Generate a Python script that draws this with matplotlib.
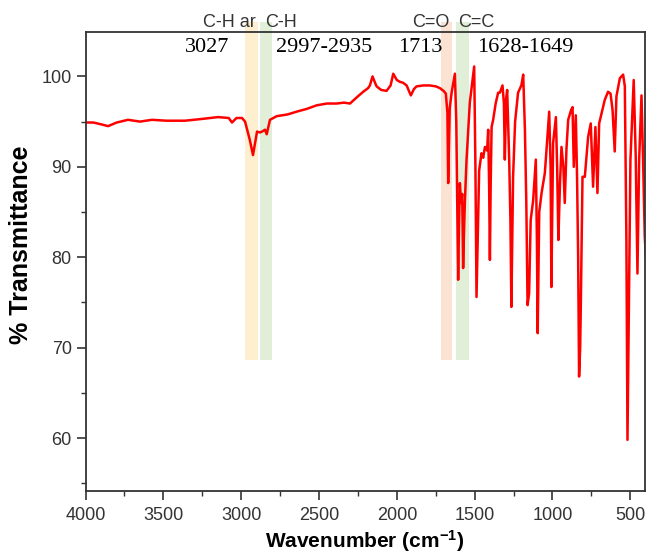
import matplotlib
matplotlib.use("Agg")
import matplotlib.pyplot as plt
from matplotlib.patches import Rectangle
from matplotlib.ticker import MultipleLocator

plt.rcParams["font.family"] = ["Liberation Sans", "DejaVu Sans"]
plt.rcParams["mathtext.fontset"] = "custom"
plt.rcParams["mathtext.rm"] = "Liberation Sans"
plt.rcParams["mathtext.bf"] = "Liberation Sans:bold"

# spectrum (wavenumber in cm-1, % transmittance)
WAVENUMBER = [
    4000, 3950, 3900, 3855, 3800, 3727, 3650, 3573, 3480, 3361, 3250, 3149,
    3080, 3059, 3030, 2995, 2975, 2963, 2945, 2935, 2924, 2912, 2898, 2880,
    2866, 2847, 2836, 2815, 2772, 2700, 2644, 2580, 2515, 2450, 2387, 2340,
    2301, 2250, 2216, 2185, 2173, 2156, 2140, 2130, 2100, 2066, 2040, 2023,
    2000, 1980, 1960, 1937, 1910, 1890, 1873, 1830, 1788, 1750, 1723, 1700,
    1685, 1675, 1670, 1660, 1648, 1635, 1627, 1618, 1606, 1600, 1595, 1587,
    1580, 1574, 1568, 1563, 1552, 1531, 1503, 1495, 1488, 1480, 1471, 1456,
    1445, 1434, 1420, 1413, 1407, 1402, 1397, 1391, 1381, 1365, 1349, 1338,
    1321, 1312, 1306, 1298, 1291, 1278, 1270, 1264, 1253, 1240, 1221, 1200,
    1188, 1177, 1168, 1160, 1150, 1140, 1124, 1107, 1100, 1095, 1085, 1070,
    1049, 1030, 1021, 1012, 1007, 996, 978, 970, 962, 952, 942, 930,
    921, 910, 899, 880, 871, 863, 850, 842, 835, 829, 822, 818,
    807, 792, 780, 771, 754, 739, 724, 711, 700, 685, 664, 643,
    627, 614, 600, 589, 567, 546, 535, 525, 518, 510, 499, 478,
    465, 454, 443, 428, 418, 407, 400,
]
TRANSMITTANCE = [
    94.9, 94.9, 94.7, 94.5, 94.9, 95.2, 95.0, 95.2, 95.1, 95.1, 95.3, 95.5,
    95.4, 94.9, 95.4, 95.4, 95.0, 94.2, 93.0, 92.2, 91.3, 92.5, 93.9, 93.8,
    93.9, 94.1, 93.6, 95.2, 95.6, 95.8, 96.1, 96.4, 96.8, 97.0, 97.0, 97.1,
    97.0, 97.8, 98.3, 98.7, 99.0, 100.0, 99.3, 98.9, 98.5, 98.4, 99.0, 100.3,
    99.6, 99.4, 99.3, 99.0, 97.9, 98.6, 98.9, 99.0, 99.0, 98.9, 98.7, 98.4,
    98.1, 96.0, 88.2, 96.5, 98.2, 99.5, 100.3, 95.0, 77.5, 84.0, 88.2, 86.0,
    87.0, 78.8, 83.0, 86.0, 90.8, 97.1, 101.1, 90.0, 75.6, 82.0, 89.6, 91.5,
    91.0, 92.2, 91.8, 94.1, 88.0, 79.7, 88.0, 94.4, 95.2, 97.0, 98.2, 98.2,
    99.0, 97.0, 90.8, 97.5, 98.5, 90.8, 84.0, 74.5, 88.9, 95.0, 98.2, 99.0,
    100.2, 94.1, 86.0, 74.7, 76.0, 84.1, 86.3, 90.8, 82.0, 71.6, 85.0, 87.1,
    89.3, 94.0, 96.1, 90.0, 76.7, 92.6, 95.5, 90.0, 81.9, 88.0, 92.2, 90.0,
    86.0, 92.0, 95.2, 96.3, 96.6, 90.0, 95.7, 88.9, 80.0, 66.8, 70.0, 74.5,
    88.9, 88.9, 91.5, 93.3, 94.8, 87.8, 94.4, 87.1, 94.8, 95.9, 97.4, 98.3,
    98.1, 96.3, 91.7, 97.8, 99.8, 100.2, 98.9, 81.9, 59.8, 72.7, 90.8, 99.6,
    91.1, 78.2, 90.8, 97.9, 90.8, 82.3, 80.0,
]

# highlighted bands: (high wavenumber, low wavenumber), colour
BAND_EDGES = [(2973, 2889), (2876, 2805), (1719, 1644), (1621, 1535)]
BAND_COLORS = ["#fdefcf", "#e1eed8", "#fbe3d4", "#e1eed8"]

GROUP_LABELS = ["C-H ar", "C-H", "C=O", "C=C"]
GROUP_X = [3078, 2745, 1781, 1492]
PEAK_LABELS = ["3027", "2997-2935", "1713", "1628-1649"]
PEAK_X = [3220, 2468, 1852, 1172]


def main():
    fig = plt.figure(figsize=(6.48, 5.54), dpi=100)
    ax = fig.add_axes([0.132, 0.1137, 0.863, 0.8285])

    band_bottom, band_top = 68.6, 106.0
    for (hi, lo), color in zip(BAND_EDGES, BAND_COLORS):
        rect = Rectangle((lo, band_bottom), hi - lo, band_top - band_bottom,
                         facecolor=color, edgecolor="none", clip_on=False,
                         zorder=1)
        ax.add_patch(rect)

    ax.plot(WAVENUMBER, TRANSMITTANCE, color="#ff0000", lw=1.8, zorder=3)

    ax.set_xlim(4000, 407)
    ax.set_ylim(54.14, 104.91)
    ax.xaxis.set_major_locator(MultipleLocator(500))
    ax.xaxis.set_minor_locator(MultipleLocator(250))
    ax.yaxis.set_major_locator(MultipleLocator(10))
    ax.yaxis.set_minor_locator(MultipleLocator(5))
    ax.tick_params(which="major", direction="out", length=6.5, width=1.2,
                   color="#333333", labelsize=13, labelcolor="#333333")
    ax.tick_params(axis="x", which="major", pad=5)
    ax.tick_params(which="minor", direction="out", length=3.5, width=1.0,
                   color="#333333")
    for spine in ax.spines.values():
        spine.set_color("#333333")
        spine.set_linewidth(1.3)
        spine.set_zorder(4)

    ax.set_xlabel(r"Wavenumber (cm$\mathbf{^{-1}}$)", fontsize=15,
                  fontweight="bold", labelpad=3)
    ax.set_ylabel("% Transmittance", fontsize=18, fontweight="bold")
    ax.yaxis.set_label_coords(-0.094, 0.536)

    for label, x in zip(GROUP_LABELS, GROUP_X):
        ax.text(x, 105.94, label, ha="center", va="center", fontsize=13,
                color="#333333", clip_on=False, zorder=5)
    for label, x in zip(PEAK_LABELS, PEAK_X):
        ax.text(x, 103.25, label, ha="center", va="center", fontsize=16,
                family="Liberation Serif", color="black", zorder=5)

    fig.savefig("out.png", dpi=100)
    plt.close(fig)


if __name__ == "__main__":
    main()
